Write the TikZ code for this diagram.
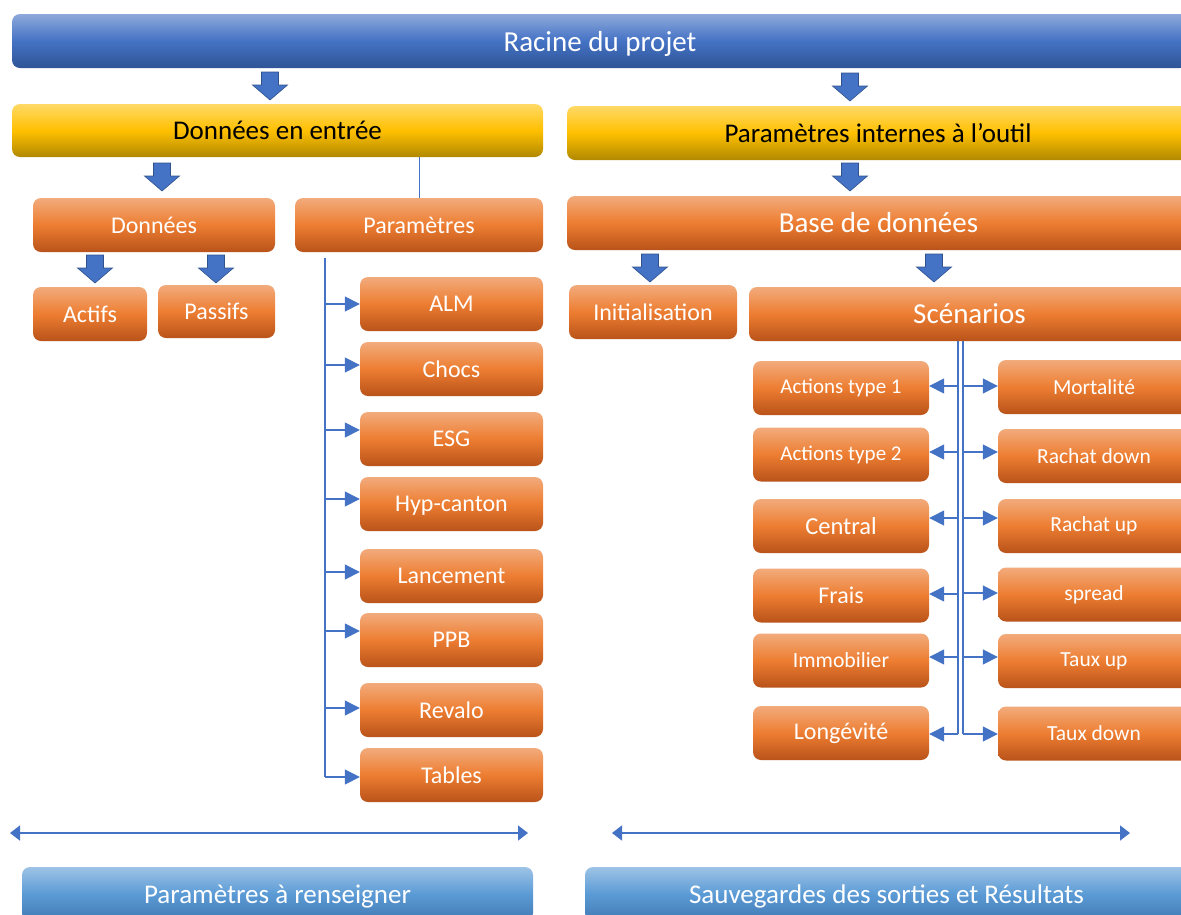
\documentclass[tikz,border=0pt]{standalone}
\usepackage{fontspec}
\setmainfont{Carlito}
\usetikzlibrary{arrows.meta,positioning}

\definecolor{arrowblue}{HTML}{4472C4}
\definecolor{arrowedge}{HTML}{2F528F}
\definecolor{linkblue}{HTML}{4472C4}
\definecolor{orangetop}{HTML}{F2AB7C}
\definecolor{orangemid}{HTML}{ED7D31}
\definecolor{orangebot}{HTML}{B9531A}
\definecolor{yellowtop}{HTML}{FFD966}
\definecolor{yellowmid}{HTML}{FFC000}
\definecolor{yellowbot}{HTML}{B08800}
\definecolor{roottop}{HTML}{8EA9DB}
\definecolor{rootmid}{HTML}{4472C4}
\definecolor{rootbot}{HTML}{2F5496}
\definecolor{savetop}{HTML}{9DC3E6}
\definecolor{savemid}{HTML}{5B9BD5}
\definecolor{savebot}{HTML}{4279B4}

\newcommand\boxfont[1]{\fontsize{#1}{#1}\selectfont}

\tikzset{
  x=1pt, y=-1pt,
  box/.style={rounded corners=8pt, inner sep=0pt, minimum height=54pt},
  obox/.style={box, top color=orangetop, bottom color=orangebot, middle color=orangemid,
    text=white, font=\boxfont{24}},
  ybox/.style={box, top color=yellowtop, bottom color=yellowbot, middle color=yellowmid,
    text=black, font=\boxfont{27}},
  rootbar/.style={box, top color=roottop, bottom color=rootbot, middle color=rootmid,
    text=white, font=\boxfont{29}, text depth=0pt},
  savebar/.style={box, top color=savetop, bottom color=savebot, middle color=savemid,
    text=white, font=\boxfont{27}, text depth=0pt},
  link/.style={draw=linkblue, line width=1.5pt},
  linkarrow/.style={link, -{Triangle[length=15pt,width=15pt]}},
  span/.style={link, {Triangle[length=10pt,width=15pt]}-{Triangle[length=10pt,width=15pt]}},
  blockdown/.pic={
    \filldraw[fill=arrowblue, draw=arrowedge, line width=0.6pt]
      (-8.5,0) -- (8.5,0) -- (8.5,13) -- (17.5,13) -- (0,28) -- (-17.5,13) -- (-8.5,13) -- cycle;
  }
}

\begin{document}
\begin{tikzpicture}
  \useasboundingbox (0,0) rectangle (1181,914);
  \clip (0,0) rectangle (1181,914);

  % top levels
  \node[rootbar, minimum width=1176pt] (root) at (600,41) {Racine du projet};
  \node[ybox, minimum width=531pt, minimum height=53pt] (entree) at (277.5,130.5) {Données en entrée};
  \node[ybox, minimum width=622pt] (interne) at (878,133) {Paramètres internes à l’outil};

  \node[obox, minimum width=242pt] (donnees) at (154,225) {Données};
  \node[obox, minimum width=248pt] (params) at (419,225) {Paramètres};
  \node[obox, minimum width=623pt, font=\boxfont{29}] (base) at (878.5,223) {Base de données};

  \node[obox, minimum width=114pt] (actifs) at (90,314) {Actifs};
  \node[obox, minimum width=117pt, minimum height=53pt] (passifs) at (216.5,311.5) {Passifs};
  \node[obox, minimum width=168pt] (init) at (653,312) {Initialisation};
  \node[obox, minimum width=441pt, font=\boxfont{29}] (scen) at (969.5,314) {Scénarios};

  \pic at (270,72) {blockdown};
  \pic at (850,73) {blockdown};
  \pic at (162,163) {blockdown};
  \pic at (850,163) {blockdown};
  \pic at (95,255) {blockdown};
  \pic at (216,255) {blockdown};
  \pic at (650,254) {blockdown};
  \pic at (934,254) {blockdown};

  % parametres
  \node[obox, minimum width=183pt] (alm) at (451.5,304) {ALM};
  \node[obox, minimum width=183pt] (chocs) at (451.5,369) {Chocs};
  \node[obox, minimum width=183pt] (esg) at (451.5,439) {ESG};
  \node[obox, minimum width=183pt, text depth=0pt] (hyp) at (451.5,504) {Hyp-canton};
  \node[obox, minimum width=183pt] (lanc) at (451.5,576) {Lancement};
  \node[obox, minimum width=183pt] (ppb) at (451.5,640) {PPB};
  \node[obox, minimum width=183pt] (revalo) at (451.5,710) {Revalo};
  \node[obox, minimum width=183pt] (tables) at (451.5,775) {Tables};

  \draw[link, line width=1pt] (params.north |- entree.south) -- (params.north);
  \coordinate (ptop) at (325,258);
  \draw[link] (ptop) -- (325,777);
  \foreach \n/\y in {alm/304, chocs/365, esg/430, hyp/499, lanc/572, ppb/631, revalo/708, tables/777}
    \draw[linkarrow] (325,\y) -- (\n.west |- 0,\y);

  % scenarios
  \node[obox, minimum width=176pt, font=\boxfont{21}] (act1) at (841,388) {Actions type 1};
  \node[obox, minimum width=176pt, font=\boxfont{21}] (act2) at (841,454.5) {Actions type 2};
  \node[obox, minimum width=176pt, font=\boxfont{24.5}] (central) at (841,526) {Central};
  \node[obox, minimum width=176pt, font=\boxfont{24}] (frais) at (841,595.5) {Frais};
  \node[obox, minimum width=176pt, font=\boxfont{21.7}] (immo) at (841,660.5) {Immobilier};
  \node[obox, minimum width=176pt, font=\boxfont{24}] (longev) at (841,733) {Longévité};

  \node[obox, minimum width=192pt, font=\boxfont{21.5}] (mort) at (1094,387) {Mortalité};
  \node[obox, minimum width=192pt, font=\boxfont{21.5}] (rdown) at (1094,456) {Rachat down};
  \node[obox, minimum width=192pt, font=\boxfont{21.5}] (rup) at (1094,526) {Rachat up};
  \node[obox, minimum width=192pt, font=\boxfont{21.5}] (spread) at (1094,594.5) {spread};
  \node[obox, minimum width=192pt, font=\boxfont{21.5}] (tup) at (1094,661) {Taux up};
  \node[obox, minimum width=192pt, font=\boxfont{21.5}] (tdown) at (1094,733.5) {Taux down};

  \coordinate (sleft) at (958,341);
  \coordinate (sright) at (963,341);
  \draw[link, line width=1.2pt] (sleft) -- (958,734);
  \draw[link, line width=1.2pt] (sright) -- (963,734);
  \foreach \n/\y in {act1/386, act2/452, central/518, frais/594, immo/657, longev/734}
    \draw[linkarrow] (958,\y) -- (\n.east |- 0,\y);
  \foreach \n/\y in {mort/386, rdown/452, rup/518, spread/593, tup/657, tdown/734}
    \draw[linkarrow] (963,\y) -- (\n.west |- 0,\y);

  % bottom
  \coordinate (la) at (10,833);
  \coordinate (lb) at (528,833);
  \coordinate (ra) at (612,833);
  \coordinate (rb) at (1130,833);
  \draw[span] (la) -- (lb);
  \draw[span] (ra) -- (rb);

  \node[savebar, minimum width=511pt] (renseigner) at (277.5,894) {Paramètres à renseigner};
  \node[savebar, minimum width=603pt] (sorties) at (886.5,894) {Sauvegardes des sorties et Résultats};
\end{tikzpicture}
\end{document}
